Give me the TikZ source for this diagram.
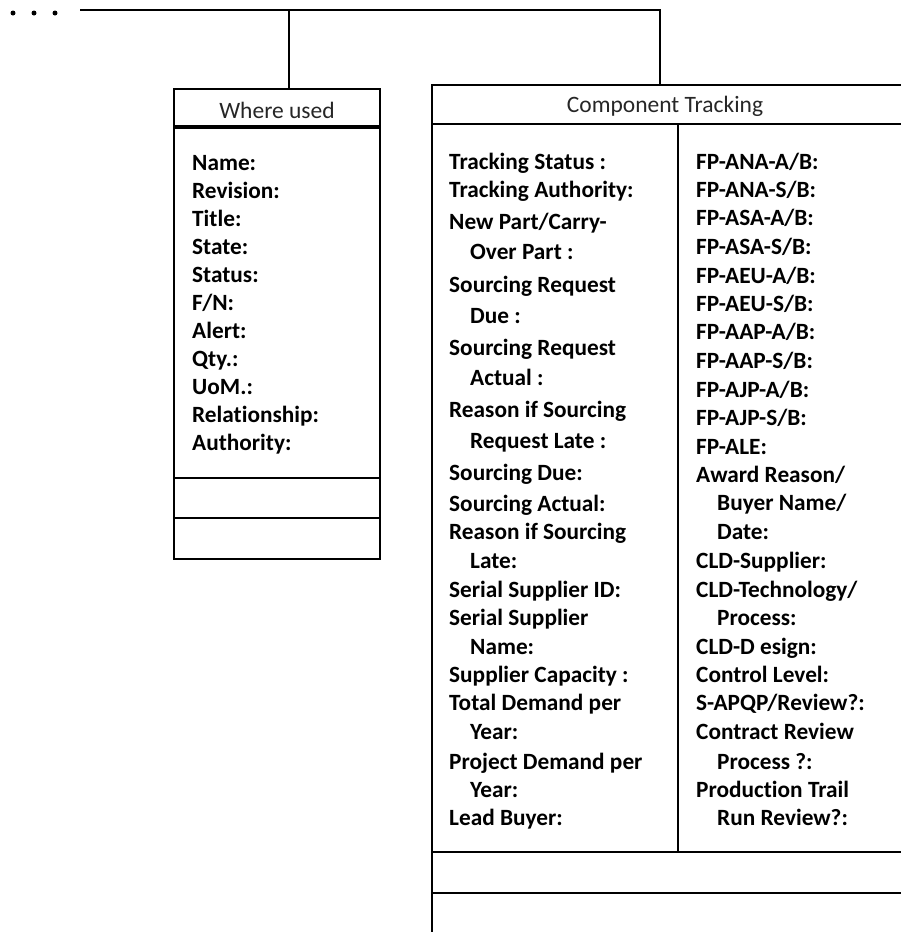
\documentclass[tikz,border=0pt]{standalone}
\usepackage{fontspec}
\setmainfont{Carlito}[RawFeature=-liga]
\begin{document}
\begin{tikzpicture}[x=1pt,y=-1pt,
  frame/.style={line width=1.8pt},
  thickrule/.style={line width=3.2pt},
  titletext/.style={font=\fontsize{23.5}{26}\selectfont, text=black!85, inner sep=0pt},
  item/.style={font=\bfseries\fontsize{23.3}{26}\selectfont, anchor=base west, inner sep=0pt},
  dotmark/.style={fill=black, draw=none, circle, inner sep=0pt, minimum size=5pt}]
\path[use as bounding box] (0,0) rectangle (901,932);
\clip (0,0) rectangle (901,932);
% ellipsis and tree lines
\node[dotmark] (d1) at (13,13) {};
\node[dotmark] (d2) at (34,13) {};
\node[dotmark] (d3) at (55,13) {};
\coordinate (lstart) at (80,10);
\coordinate (lbranch) at (289,10);
\coordinate (lcorner) at (660,10);
\coordinate (wutop) at (289,89);
\coordinate (cttop) at (660,84);
\draw[frame] (lstart) -- (lcorner) -- (cttop);
\draw[frame] (lbranch) -- (wutop);
% Where used box
\draw[frame] (174,89) rectangle (380,559);
\draw[thickrule] (174,127) -- (380,127);
\draw[frame] (174,478) -- (380,478);
\draw[frame] (174,518) -- (380,518);
\node[titletext] (wutitle) at (277,110) {Where used};
\foreach \yy/\tt [count=\i] in {163/{Name:},191/{Revision:},219/{Title:},247/{State:},275/{Status:},303/{F/N:},331/{Alert:},359/{Qty.:},387/{UoM.:},415/{Relationship:},443/{Authority:}}
  \node[item] (wu\i) at (192,\yy+7) {\tt};
% Component Tracking box
\draw[frame] (432,85) rectangle (960,960);
\draw[frame] (432,124) -- (960,124);
\draw[frame] (678,124) -- (678,852);
\draw[frame] (432,852) -- (960,852);
\draw[frame] (432,893) -- (960,893);
\node[titletext] (cttitle) at (665,106) {Component Tracking};
% left column
\foreach \yy/\tt [count=\i] in {162/{Tracking Status :},190/{Tracking Authority:},222/{New Part/Carry-},285/{Sourcing Request},348/{Sourcing Request},410/{Reason if Sourcing},473/{Sourcing Due:},504/{Sourcing Actual:},532/{Reason if Sourcing},590/{Serial Supplier ID:},618/{Serial Supplier},675/{Supplier Capacity :},703/{Total Demand per},762/{Project Demand per},818/{Lead Buyer:}}
  \node[item] (la\i) at (449,\yy+7) {\tt};
\foreach \yy/\tt [count=\i] in {252/{Over Part :},316/{Due :},378/{Actual :},441/{Request Late :},561/{Late:},647/{Name:},732/{Year:},790/{Year:}}
  \node[item] (lb\i) at (470,\yy+7) {\tt};
% right column
\foreach \yy/\tt [count=\i] in {162/{FP-ANA-A/B:},190/{FP-ANA-S/B:},218/{FP-ASA-A/B:},247/{FP-ASA-S/B:},276/{FP-AEU-A/B:},304/{FP-AEU-S/B:},332/{FP-AAP-A/B:},361/{FP-AAP-S/B:},390/{FP-AJP-A/B:},418/{FP-AJP-S/B:},447/{FP-ALE:},475/{Award Reason/},561/{CLD-Supplier:},590/{CLD-Technology/},647/{CLD-D esign:},675/{Control Level:},703/{S-APQP/Review?:},732/{Contract Review},790/{Production Trail}}
  \node[item] (ra\i) at (696,\yy+7) {\tt};
\foreach \yy/\tt [count=\i] in {503/{Buyer Name/},532/{Date:},618/{Process:},762/{Process ?:},818/{Run Review?:}}
  \node[item] (rb\i) at (717,\yy+7) {\tt};
\end{tikzpicture}
\end{document}
